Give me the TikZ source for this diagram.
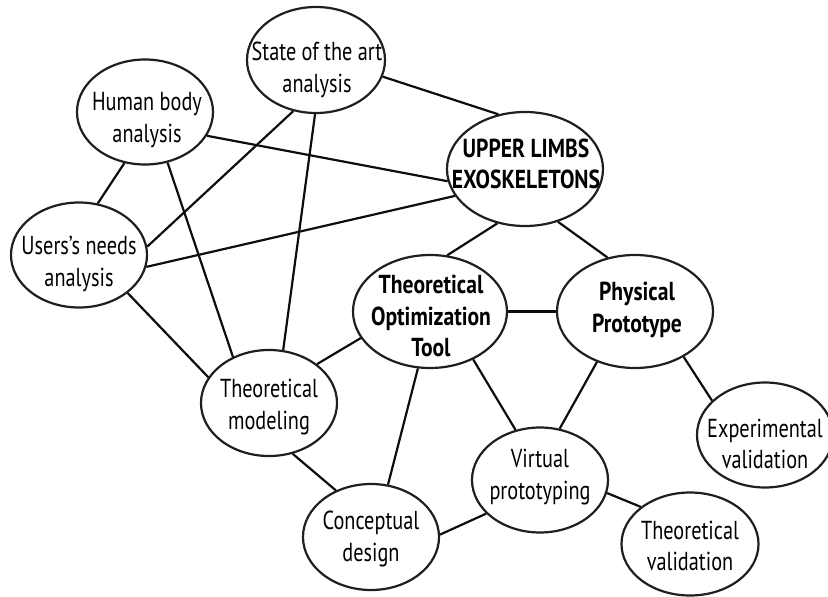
\documentclass[tikz,border=0pt]{standalone}
\usepackage{fontspec}
\setmainfont{PT Sans}[FakeStretch=0.78]
\newfontfamily\headfam{PT Sans}[FakeStretch=0.83]
\usetikzlibrary{shapes.geometric}
\begin{document}
\begin{tikzpicture}[x=1pt,y=-1pt,
  bubble/.style={ellipse,draw=black!88,line width=2.2pt,inner sep=0pt,
                 minimum width=136pt,minimum height=105pt},
  bigbubble/.style={bubble,minimum width=156pt,minimum height=114pt},
  lbl/.style={align=center,inner sep=0pt,font=\fontsize{26}{31.5}\selectfont},
  blbl/.style={lbl,font=\headfam\fontsize{26}{31.5}\selectfont\bfseries},
  link/.style={line width=2.2pt,draw=black!95}]
\useasboundingbox (0,0) rectangle (828,597);

% outlines
\node[bubble,minimum width=138pt,minimum height=106pt] (state) at (316,60) {};
\node[bubble] (human) at (145,112) {};
\node[bubble] (users) at (79,255) {};
\node[bigbubble] (upper) at (525,169) {};
\node[bigbubble,minimum width=154pt,minimum height=113pt] (tot) at (430,311.5) {};
\node[bigbubble,minimum height=113pt] (phys) at (635,311.5) {};
\node[bubble,minimum height=106pt] (model) at (269,403) {};
\node[bubble,minimum height=106pt] (concept) at (371,537) {};
\node[bubble] (virtual) at (540,480) {};
\node[bubble] (exper) at (765,435) {};
\node[bubble,minimum width=137pt,minimum height=103pt] (tval) at (690,544) {};

% labels
\node[lbl] at (317,70) {State of the art\\analysis};
\node[lbl] at (147,120) {Human body\\analysis};
\node[lbl] at (79,264) {Users’s needs\\analysis};
\node[blbl] at (526,164) {UPPER LIMBS\\EXOSKELETONS};
\node[blbl] at (431,316) {Theoretical\\Optimization\\Tool};
\node[blbl] at (637,310) {Physical\\Prototype};
\node[lbl] at (269,407) {Theoretical\\modeling};
\node[lbl] at (371,539) {Conceptual\\design};
\node[lbl] at (540,477) {Virtual\\prototyping};
\node[lbl] at (765,444) {Experimental\\validation};
\node[lbl] at (690,546) {Theoretical\\validation};

% connections
\draw[link] (state.-14) -- (upper.116);
\draw[link] (state.246) -- (users.7);
\draw[link] (state.269) -- (model.75);
\draw[link] (human.-21) -- (upper.189.5);
\draw[link] (human.248.6) -- (users.70);
\draw[link] (human.-66) -- (model.128);
\draw[link] (users.-10) -- (upper.201);
\draw[link] (users.-38) -- (model.157);
\draw[link] (upper.243) -- (tot.73);
\draw[link] (upper.-58) -- (phys.117);
\draw[link] (tot.0) -- (phys.180);
\draw[link] (tot.201) -- (model.39);
\draw[link] (tot.258) -- (concept.72);
\draw[link] (tot.-48) -- (virtual.116);
\draw[link] (phys.233) -- (virtual.69);
\draw[link] (phys.-43) -- (exper.147);
\draw[link] (virtual.-11) -- (tval.143);
\draw[link] (virtual.212) -- (concept.2);
\draw[link] (model.-65) -- (concept.127);
\end{tikzpicture}
\end{document}
